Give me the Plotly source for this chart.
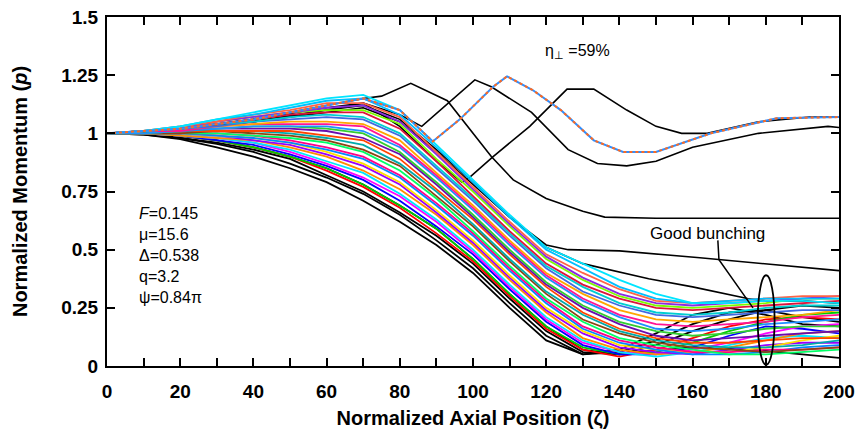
import plotly.graph_objects as go

# ---------------- data ----------------
x_grid = [0, 10, 20, 30, 40, 50, 60, 70, 80, 90, 100, 110, 120, 130, 140, 150, 160, 170, 180, 190, 200]

p00 = [1.00,0.995,0.975,0.94,0.90,0.85,0.79,0.71,0.62,0.52,0.40,0.25,0.11,0.05,0.07,0.14,0.22,0.25,0.22,0.18,0.17]
p01 = [1.00,0.995,0.98,0.955,0.92,0.87,0.81,0.74,0.65,0.54,0.42,0.27,0.13,0.05,0.06,0.11,0.18,0.23,0.24,0.21,0.19]
p02 = [1.00,1.00,0.98,0.96,0.93,0.89,0.82,0.75,0.66,0.56,0.44,0.29,0.15,0.06,0.05,0.09,0.15,0.20,0.24,0.26,0.25]
p03 = [1.00,1.00,0.99,0.97,0.94,0.90,0.84,0.77,0.68,0.57,0.45,0.30,0.16,0.07,0.04,0.07,0.12,0.17,0.20,0.21,0.20]
p04 = [1.00,1.00,0.99,0.97,0.94,0.90,0.85,0.78,0.69,0.59,0.46,0.31,0.17,0.08,0.05,0.06,0.10,0.15,0.19,0.22,0.23]
p05 = [1.00,1.00,0.99,0.97,0.95,0.91,0.86,0.80,0.71,0.60,0.48,0.33,0.19,0.09,0.05,0.05,0.08,0.13,0.17,0.16,0.14]
p06 = [1.00,1.00,0.99,0.98,0.96,0.92,0.87,0.81,0.73,0.62,0.49,0.34,0.20,0.10,0.06,0.05,0.07,0.10,0.14,0.17,0.18]
p07 = [1.00,1.00,0.99,0.98,0.96,0.93,0.88,0.83,0.74,0.63,0.50,0.35,0.21,0.11,0.06,0.04,0.06,0.09,0.12,0.13,0.12]
p08 = [1.00,1.00,0.99,0.98,0.97,0.94,0.90,0.84,0.76,0.65,0.52,0.37,0.23,0.12,0.07,0.05,0.06,0.08,0.11,0.14,0.15]
p09 = [1.00,1.00,1.00,0.99,0.97,0.95,0.91,0.86,0.78,0.66,0.53,0.38,0.24,0.14,0.08,0.06,0.05,0.07,0.09,0.10,0.10]
p10 = [1.00,1.00,1.00,0.99,0.98,0.96,0.92,0.87,0.79,0.67,0.54,0.39,0.25,0.15,0.09,0.07,0.06,0.06,0.08,0.11,0.13]
p11 = [1.00,1.00,1.00,0.99,0.98,0.96,0.93,0.89,0.81,0.69,0.56,0.41,0.27,0.16,0.10,0.07,0.05,0.05,0.06,0.08,0.09]
p12 = [1.00,1.00,1.00,1.00,0.99,0.97,0.94,0.90,0.82,0.70,0.57,0.42,0.28,0.17,0.11,0.08,0.06,0.06,0.07,0.07,0.08]
p13 = [1.00,1.00,1.00,1.00,0.99,0.98,0.96,0.92,0.84,0.72,0.58,0.43,0.29,0.19,0.12,0.09,0.07,0.05,0.05,0.06,0.07]
p14 = [1.00,1.00,1.00,1.01,1.00,0.99,0.97,0.93,0.86,0.73,0.60,0.45,0.31,0.20,0.14,0.10,0.08,0.07,0.06,0.07,0.08]
p15 = [1.00,1.00,1.01,1.01,1.01,1.00,0.98,0.95,0.87,0.75,0.61,0.46,0.32,0.22,0.15,0.11,0.09,0.08,0.08,0.09,0.11]
p16 = [1.00,1.00,1.01,1.01,1.01,1.01,0.99,0.97,0.89,0.76,0.63,0.48,0.34,0.23,0.16,0.12,0.10,0.10,0.11,0.12,0.12]
p17 = [1.00,1.00,1.01,1.02,1.02,1.02,1.01,0.98,0.91,0.78,0.64,0.49,0.35,0.25,0.18,0.13,0.11,0.12,0.13,0.14,0.15]
p18 = [1.00,1.00,1.01,1.02,1.03,1.03,1.02,1.00,0.92,0.79,0.65,0.50,0.36,0.26,0.19,0.15,0.13,0.14,0.16,0.17,0.17]
p19 = [1.00,1.00,1.01,1.02,1.03,1.03,1.03,1.01,0.94,0.81,0.67,0.52,0.38,0.28,0.21,0.16,0.15,0.16,0.18,0.19,0.20]
p20 = [1.00,1.01,1.01,1.03,1.04,1.04,1.04,1.03,0.95,0.82,0.68,0.53,0.39,0.29,0.22,0.18,0.17,0.18,0.19,0.21,0.22]
p21 = [1.00,1.01,1.02,1.03,1.04,1.05,1.05,1.04,0.97,0.83,0.69,0.54,0.40,0.31,0.24,0.20,0.19,0.20,0.21,0.22,0.24]
p22 = [1.00,1.01,1.02,1.03,1.05,1.06,1.07,1.06,0.99,0.85,0.71,0.56,0.42,0.32,0.26,0.22,0.21,0.22,0.23,0.24,0.24]
p23 = [1.00,1.01,1.02,1.04,1.05,1.07,1.08,1.07,1.00,0.86,0.72,0.57,0.43,0.34,0.27,0.23,0.22,0.23,0.25,0.26,0.26]
p24 = [1.00,1.01,1.02,1.04,1.06,1.08,1.09,1.09,1.02,0.88,0.73,0.58,0.44,0.35,0.29,0.25,0.24,0.25,0.26,0.27,0.28]
p25 = [1.00,1.01,1.02,1.05,1.07,1.09,1.10,1.10,1.04,0.89,0.75,0.60,0.46,0.37,0.30,0.26,0.25,0.26,0.27,0.29,0.29]
p26 = [1.00,1.01,1.02,1.05,1.07,1.09,1.11,1.12,1.05,0.91,0.76,0.61,0.47,0.38,0.31,0.27,0.26,0.27,0.28,0.29,0.30]
p27 = [1.00,1.01,1.03,1.05,1.08,1.10,1.13,1.13,1.07,0.92,0.77,0.62,0.48,0.40,0.33,0.28,0.27,0.28,0.29,0.30,0.30]
p28 = [1.00,1.01,1.03,1.06,1.08,1.11,1.14,1.15,1.08,0.94,0.79,0.64,0.50,0.42,0.34,0.29,0.27,0.28,0.29,0.29,0.29]
p29 = [1.00,1.01,1.03,1.06,1.09,1.12,1.15,1.165,1.10,0.95,0.80,0.65,0.51,0.44,0.37,0.31,0.27,0.27,0.28,0.28,0.27]

band_lines = [p00, p01, p02, p03, p04, p05, p06, p07, p08, p09, p10, p11, p12, p13, p14,
              p15, p16, p17, p18, p19, p20, p21, p22, p23, p24, p25, p26, p27, p28, p29]
band_colors = ["#000000", "#000000", "#000000",
               "#ff0000", "#00cc00", "#0000ff", "#ff00ff", "#00e5ff", "#ff8c00", "#9900ff",
               "#ffdd00", "#0088ff", "#ff0088", "#00ff66", "#8b4513", "#00aaaa", "#ff4500",
               "#6a0dad", "#32cd32", "#1e90ff", "#ff1493", "#ffa500", "#4169e1", "#00ced1",
               "#dc143c", "#7cfc00", "#8a2be2", "#ff6347", "#00bfff", "#00e5ff"]

# black trajectories that leave the bunch
b1_x = [0, 20, 40, 60, 70, 75, 83, 93, 105, 111, 120, 130, 136, 150, 170, 200]
b1_p = [1.0, 1.02, 1.06, 1.12, 1.15, 1.16, 1.215, 1.14, 0.90, 0.80, 0.72, 0.665, 0.64, 0.635, 0.635, 0.635]
b2_x = [0, 20, 40, 60, 70, 80, 86, 100.5, 105, 116, 126, 134, 142, 150, 160, 178, 197, 200]
b2_p = [1.0, 1.02, 1.06, 1.11, 1.13, 1.08, 1.03, 1.23, 1.20, 1.09, 0.93, 0.87, 0.86, 0.88, 0.94, 1.0, 1.03, 1.025]
b3_x = [0, 20, 40, 60, 70, 80, 90, 97, 99, 105.5, 115.5, 125.7, 133, 142, 150, 157, 164, 178, 192, 200]
b3_p = [1.0, 1.02, 1.05, 1.10, 1.13, 1.03, 0.88, 0.79, 0.81, 0.90, 1.03, 1.19, 1.19, 1.10, 1.03, 1.0, 1.0, 1.05, 1.07, 1.07]
b4_x = [0, 20, 40, 60, 70, 80, 90, 100, 110, 120, 126, 140, 162, 180, 200]
b4_p = [1.0, 1.02, 1.05, 1.10, 1.12, 1.06, 0.93, 0.79, 0.64, 0.52, 0.50, 0.495, 0.465, 0.44, 0.41]
b5_x = [0, 20, 40, 60, 70, 80, 90, 100, 110, 120, 130, 148, 160, 175, 180, 190, 200]
b5_p = [1.0, 1.02, 1.05, 1.09, 1.11, 1.05, 0.92, 0.78, 0.64, 0.51, 0.44, 0.375, 0.34, 0.29, 0.28, 0.28, 0.27]
b6_p = [1.00,1.00,0.99,0.97,0.94,0.90,0.85,0.78,0.69,0.59,0.46,0.31,0.17,0.07,0.05,0.07,0.08,0.075,0.065,0.05,0.035]

# highlighted (eta) trajectory
eta_x = [0, 20, 40, 60, 70, 80, 86, 89, 96.4, 105.5, 109.3, 116.4, 124, 133, 141, 150, 165, 183, 200]
eta_p = [1.0, 1.02, 1.06, 1.12, 1.15, 1.10, 1.01, 0.965, 1.06, 1.20, 1.245, 1.185, 1.10, 0.97, 0.92, 0.92, 1.0, 1.065, 1.07]

x_ticks = [0, 20, 40, 60, 80, 100, 120, 140, 160, 180, 200]
x_minor = [10, 30, 50, 70, 90, 110, 130, 150, 170, 190]
y_ticks = [0, 0.25, 0.5, 0.75, 1.0, 1.25, 1.5]
y_tick_text = ["0", "0.25", "0.5", "0.75", "1", "1.25", "1.5"]

params = ["<i>F</i>=0.145", "μ=15.6", "Δ=0.538", "q=3.2", "ψ=0.84π"]

# ---------------- figure ----------------
FONT = "Liberation Sans, Arial, Helvetica, sans-serif"
fig = go.Figure()

def add_line(x, y, color, width=1.6, dash="solid"):
    fig.add_trace(go.Scatter(x=x, y=y, mode="lines", line=dict(color=color, width=width, dash=dash),
                             showlegend=False, hoverinfo="skip"))

for bx, bp in [(b1_x, b1_p), (b2_x, b2_p), (b3_x, b3_p), (b4_x, b4_p), (b5_x, b5_p), (x_grid, b6_p)]:
    add_line(bx, bp, "#000000", 1.6)

for row, col in zip(band_lines, band_colors):
    add_line(x_grid, row, col, 1.8)

add_line(eta_x, eta_p, "#2f8fff", 2.0)
add_line(eta_x, eta_p, "#ff6a20", 2.0, "dot")

axis_common = dict(showline=True, linecolor="black", linewidth=2, mirror="ticks",
                   ticks="inside", ticklen=8, tickwidth=2, tickcolor="black",
                   showgrid=False, zeroline=False, automargin=False,
                   tickfont=dict(family=FONT, size=19, color="black", weight="bold"))

fig.update_layout(
    width=861, height=431,
    margin=dict(l=107, r=22, t=17, b=65),
    paper_bgcolor="white", plot_bgcolor="white",
    template="none",
    xaxis=dict(range=[0, 200], tickvals=x_ticks, ticktext=[str(v) for v in x_ticks],
               minor=dict(tickvals=x_minor, ticks="inside", ticklen=8, tickwidth=1.5, tickcolor="black"),
               ticklabelstandoff=7,
               title=dict(text="Normalized Axial Position (ζ)", standoff=10,
                          font=dict(family=FONT, size=20, color="black", weight="bold")),
               **axis_common),
    yaxis=dict(range=[0, 1.5], tickvals=y_ticks, ticktext=y_tick_text,
               ticklabelstandoff=3,
               title=dict(text="Normalized Momentum (<i>p</i>)", standoff=28,
                          font=dict(family=FONT, size=20, color="black", weight="bold")),
               **axis_common),
)

# parameter block
param_y = [0.655, 0.565, 0.474, 0.384, 0.293]
for txt, yy in zip(params, param_y):
    fig.add_annotation(x=8.2, y=yy, text=txt, showarrow=False, xanchor="left", yanchor="middle",
                       font=dict(family=FONT, size=16, color="black"))

fig.add_annotation(x=119, y=1.35, text="η<sub>⊥</sub> =59%", showarrow=False, xanchor="left",
                   yanchor="middle", font=dict(family=FONT, size=16, color="black"))

fig.add_annotation(x=164.2, y=0.569, text="Good bunching", showarrow=False, xanchor="center",
                   yanchor="middle", font=dict(family=FONT, size=17, color="black"))

# pointer and ellipse marking the good bunching region
fig.add_shape(type="path", path="M 166.9,0.54 L 167.2,0.457 L 176.5,0.25",
              line=dict(color="black", width=1.5), xref="x", yref="y")
fig.add_shape(type="circle", x0=177.8, x1=182.4, y0=0.005, y1=0.39,
              line=dict(color="black", width=1.8), xref="x", yref="y")

fig.write_html("out.html", config={"displayModeBar": False},
               post_script="document.body.style.margin='0';")
